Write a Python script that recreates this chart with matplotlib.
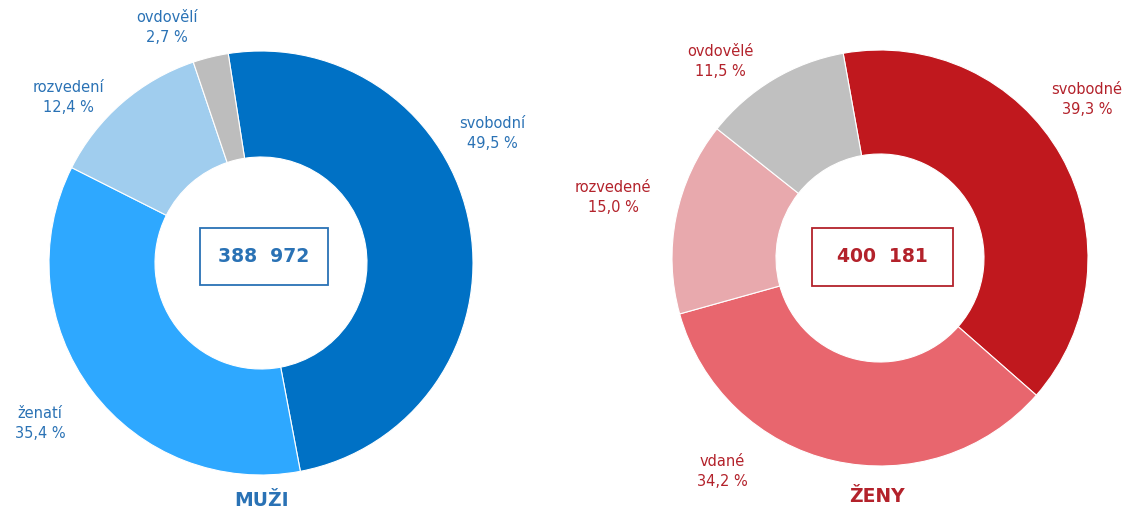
import matplotlib
matplotlib.use("Agg")
import matplotlib.pyplot as plt
from matplotlib.patches import Rectangle

# ---- data ----
men_categories = ["svobodní", "ženatí", "rozvedení", "ovdovělí"]
men_values = [49.5, 35.4, 12.4, 2.7]
men_total = "388  972"
men_title = "MUŽI"

women_categories = ["svobodné", "vdané", "rozvedené", "ovdovělé"]
women_values = [39.3, 34.2, 15.0, 11.5]
women_total = "400  181"
women_title = "ŽENY"

# ---- styles ----
men_colors = ["#0071c5", "#2ea8ff", "#a0cdee", "#bdbdbd"]
women_colors = ["#c0181e", "#e8666e", "#e8a9ad", "#c0c0c0"]
men_text = "#2a72b5"
women_text = "#b3222b"

W, H = 1134, 514
fig = plt.figure(figsize=(W / 100, H / 100), dpi=100)
ax = fig.add_axes([0, 0, 1, 1])

def fmt(v):
    return f"{v:.1f}".replace(".", ",") + " %"

def donut(center, radius, values, colors, start):
    ax.pie(values, colors=colors, center=center, radius=radius,
           startangle=start, counterclock=False,
           wedgeprops=dict(width=radius * 0.5, edgecolor="white", linewidth=0.8),
           frame=True)

# layout (pixel coordinates, y measured from top)
men_center = (261, 263)
women_center = (880, 258)
men_label_pos = [(492, 123), (40, 413), (68, 87), (167, 18)]
women_label_pos = [(1087, 89), (722, 462), (613, 188), (720, 52)]

donut((men_center[0], H - men_center[1]), 212, men_values, men_colors, 98.9)
donut((women_center[0], H - women_center[1]), 208, women_values, women_colors, 100.2)
ax.set_xlim(0, W)
ax.set_ylim(0, H)
ax.set_aspect("equal")
ax.axis("off")

fs = 10.5
for (x, y), cat, v in zip(men_label_pos, men_categories, men_values):
    ax.text(x, H - y, cat, ha="center", va="center", fontsize=fs, color=men_text)
    ax.text(x, H - y - 20, fmt(v), ha="center", va="center", fontsize=fs, color=men_text)
for (x, y), cat, v in zip(women_label_pos, women_categories, women_values):
    ax.text(x, H - y, cat, ha="center", va="center", fontsize=fs, color=women_text)
    ax.text(x, H - y - 20, fmt(v), ha="center", va="center", fontsize=fs, color=women_text)

# center boxes
ax.add_patch(Rectangle((200, H - 285), 128, 57, fill=False, edgecolor=men_text, linewidth=1.3))
ax.text(264, H - 257, men_total, ha="center", va="center", fontsize=13.5, fontweight="bold", color=men_text)
ax.add_patch(Rectangle((812, H - 286), 141, 58, fill=False, edgecolor=women_text, linewidth=1.3))
ax.text(882, H - 257, women_total, ha="center", va="center", fontsize=13.5, fontweight="bold", color=women_text)

# titles
ax.text(262, H - 501, men_title, ha="center", va="center", fontsize=13.5, fontweight="bold", color=men_text)
ax.text(877, H - 496, women_title, ha="center", va="center", fontsize=13.5, fontweight="bold", color=women_text)

fig.savefig("out.png", dpi=100)
